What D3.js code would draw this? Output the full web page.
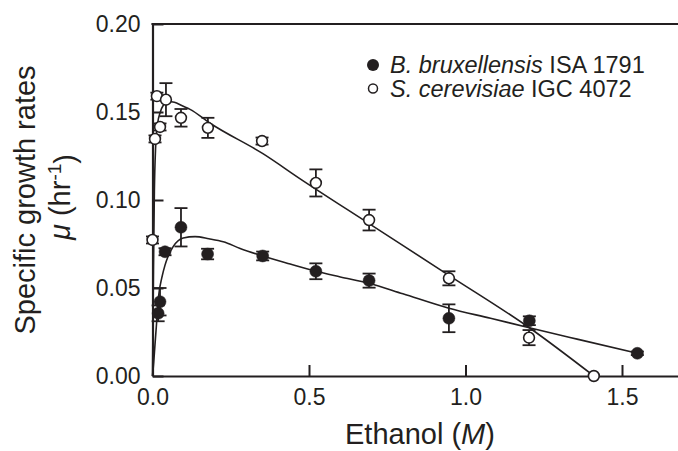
<!DOCTYPE html>
<html>
<head>
<meta charset="utf-8">
<script src="https://cdn.jsdelivr.net/npm/d3@7"></script>
<style>
  html, body { margin: 0; padding: 0; background: #fff; }
  svg { display: block; font-family: "Liberation Sans", Arial, Helvetica, sans-serif; }
</style>
</head>
<body>
<svg id="chart" width="678" height="451"></svg>
<script>
// ---- Data ----
const xTicks = [0.0, 0.5, 1.0, 1.5];
const yTicks = [0.00, 0.05, 0.10, 0.15, 0.20];

// B. bruxellensis ISA 1791 (filled)
const bruxX   = [0.018, 0.024, 0.040, 0.091, 0.176, 0.352, 0.522, 0.692, 0.947, 1.204, 1.549];
const bruxY   = [0.0356, 0.0422, 0.0706, 0.0845, 0.0693, 0.0682, 0.0595, 0.0542, 0.0328, 0.0314, 0.0129];
const bruxErr = [0.0045, 0.0078, 0.0020, 0.0109, 0.0030, 0.0025, 0.0045, 0.0040, 0.0079, 0.0025, 0.0010];

// S. cerevisiae IGC 4072 (open)
const cerX   = [0.000, 0.008, 0.014, 0.024, 0.043, 0.091, 0.177, 0.350, 0.522, 0.692, 0.947, 1.203, 1.410];
const cerY   = [0.0773, 0.1347, 0.1590, 0.1415, 0.1570, 0.1467, 0.1410, 0.1335, 0.1097, 0.0886, 0.0555, 0.0218, 0.0000];
const cerErr = [0.0020, 0.0020, 0.0020, 0.0020, 0.0094, 0.0050, 0.0057, 0.0020, 0.0077, 0.0059, 0.0040, 0.0043, 0.0000];

// Fitted curves
const bruxFitX = [0, 0.004, 0.008, 0.013, 0.020, 0.030, 0.040, 0.050, 0.066, 0.098, 0.136, 0.180, 0.226, 0.280, 0.352, 0.440, 0.522, 0.600, 0.692, 0.800, 0.947, 1.080, 1.204, 1.360, 1.549];
const bruxFitY = [0, 0.008, 0.018, 0.030, 0.046, 0.056, 0.063, 0.068, 0.0735, 0.0784, 0.0792, 0.0780, 0.0763, 0.0725, 0.0682, 0.0636, 0.0595, 0.0563, 0.0527, 0.0467, 0.0385, 0.0328, 0.0274, 0.0208, 0.0129];

const cerFitX = [0, 0.003, 0.006, 0.010, 0.016, 0.025, 0.035, 0.050, 0.070, 0.095, 0.120, 0.184, 0.354, 0.473, 0.692, 0.947, 1.204, 1.410];
const cerFitY = [0, 0.060, 0.105, 0.130, 0.143, 0.150, 0.154, 0.156, 0.1555, 0.1535, 0.1515, 0.1436, 0.1262, 0.1119, 0.0866, 0.0572, 0.0274, 0.0000];

const legendLabels = [
  {italic: "B. bruxellensis", rest: " ISA 1791", filled: true},
  {italic: "S. cerevisiae", rest: " IGC 4072", filled: false}
];

(function () {
// ---- Layout ----
const svg = d3.select("#chart");
const plotLeft = 152.5, plotTop = 24, plotBottom = 376;
const x = d3.scaleLinear().domain([0, 1.75]).range([plotLeft, plotLeft + 313 * 1.75]);
const y = d3.scaleLinear().domain([0, 0.20]).range([plotBottom, plotTop]);

const ink = "#231f20";

// curves
const line = d3.line().x(d => x(d[0])).y(d => y(d[1])).curve(d3.curveMonotoneX);
svg.append("path")
  .attr("d", line(d3.zip(cerFitX, cerFitY)))
  .attr("fill", "none").attr("stroke", ink).attr("stroke-width", 1.6);
svg.append("path")
  .attr("d", line(d3.zip(bruxFitX, bruxFitY)))
  .attr("fill", "none").attr("stroke", ink).attr("stroke-width", 1.6);

// axes
const axisFont = 23;
const gx = svg.append("g").attr("transform", `translate(0,${plotBottom})`)
  .call(d3.axisBottom(x).tickValues(xTicks).tickFormat(d3.format(".1f"))
        .tickSizeInner(-11).tickSizeOuter(0).tickPadding(13));
const gy = svg.append("g").attr("transform", `translate(${plotLeft},0)`)
  .call(d3.axisLeft(y).tickValues(yTicks).tickFormat(d3.format(".2f"))
        .tickSizeInner(-11).tickSizeOuter(0).tickPadding(12));
[gx, gy].forEach(g => {
  g.select(".domain").attr("stroke", ink).attr("stroke-width", 2.2);
  g.selectAll(".tick line").attr("stroke", ink).attr("stroke-width", 2);
  g.selectAll(".tick text").attr("fill", ink).style("font-size", axisFont + "px")
    .style("font-family", '"Liberation Sans", Arial, sans-serif');
});
// top frame line
svg.append("line")
  .attr("x1", plotLeft - 1.1).attr("x2", 700).attr("y1", y(0.20)).attr("y2", y(0.20))
  .attr("stroke", ink).attr("stroke-width", 2.2);

// error bars
function errorBars(xs, ys, es) {
  const g = svg.append("g").attr("stroke", ink).attr("stroke-width", 1.8);
  xs.forEach((xv, i) => {
    if (!es[i]) return;
    const cx = x(xv), y1 = y(ys[i] + es[i]), y2 = y(ys[i] - es[i]);
    g.append("line").attr("x1", cx).attr("x2", cx).attr("y1", y1).attr("y2", y2);
    g.append("line").attr("x1", cx - 6.5).attr("x2", cx + 6.5).attr("y1", y1).attr("y2", y1);
    g.append("line").attr("x1", cx - 6.5).attr("x2", cx + 6.5).attr("y1", y2).attr("y2", y2);
  });
}
errorBars(cerX, cerY, cerErr);
errorBars(bruxX, bruxY, bruxErr);

// markers
svg.append("g").selectAll("circle").data(d3.zip(bruxX, bruxY)).join("circle")
  .attr("cx", d => x(d[0])).attr("cy", d => y(d[1])).attr("r", 6)
  .attr("fill", ink).attr("stroke", ink).attr("stroke-width", 0.5);
svg.append("g").selectAll("circle").data(d3.zip(cerX, cerY)).join("circle")
  .attr("cx", d => x(d[0])).attr("cy", d => y(d[1])).attr("r", 5.4)
  .attr("fill", "#fff").attr("stroke", ink).attr("stroke-width", 1.6);

// legend
const legFont = 23.5;
const lg = svg.append("g");
legendLabels.forEach((d, i) => {
  const cy = 65 + i * 23.5;
  if (d.filled) {
    lg.append("circle").attr("cx", 373).attr("cy", cy).attr("r", 6).attr("fill", ink);
  } else {
    lg.append("circle").attr("cx", 373).attr("cy", cy).attr("r", 4.5)
      .attr("fill", "#fff").attr("stroke", ink).attr("stroke-width", 1.5);
  }
  const t = lg.append("text").attr("x", 390).attr("y", cy).attr("dy", "0.36em")
    .attr("fill", ink).style("font-size", legFont + "px");
  t.append("tspan").style("font-style", "italic").text(d.italic);
  t.append("tspan").text(d.rest);
});

// axis titles
const titleFont = 29;
svg.append("text").attr("x", 420).attr("y", 444).attr("text-anchor", "middle")
  .attr("fill", ink).style("font-size", titleFont + "px")
  .call(t => {
    t.append("tspan").text("Ethanol (");
    t.append("tspan").style("font-style", "italic").text("M");
    t.append("tspan").text(")");
  });

svg.append("text").attr("transform", "translate(35,200) rotate(-90)")
  .attr("text-anchor", "middle").attr("fill", ink).style("font-size", titleFont + "px")
  .text("Specific growth rates");
svg.append("text").attr("transform", "translate(70,197) rotate(-90)")
  .attr("text-anchor", "middle").attr("fill", ink).style("font-size", titleFont + "px")
  .call(t => {
    t.append("tspan").style("font-style", "italic").text("μ");
    t.append("tspan").text(" (hr");
    t.append("tspan").attr("dy", "-0.45em").style("font-size", "19px").text("-1");
    t.append("tspan").attr("dy", "0.45em").text(")");
  });
})();
</script>
</body>
</html>
